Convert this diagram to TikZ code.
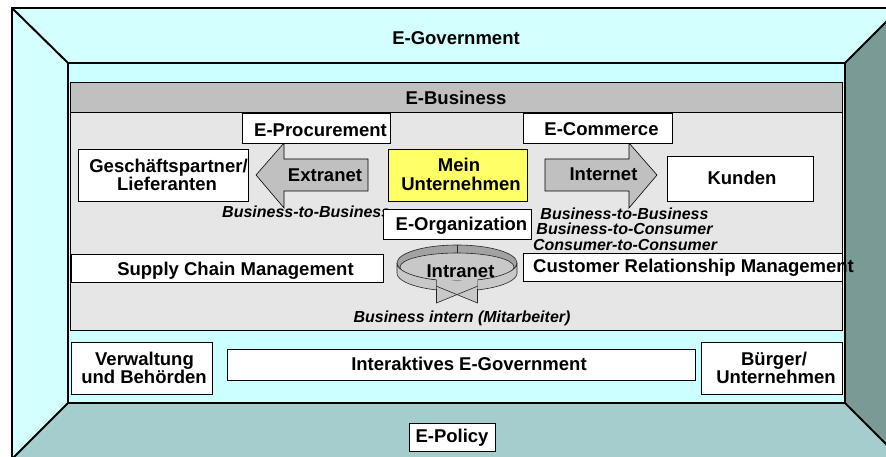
\documentclass[tikz,border=0pt]{standalone}
\usepackage{fontspec}
\setmainfont{Liberation Sans}
\usetikzlibrary{fit}
\definecolor{ceil}{RGB}{212,255,255}
\definecolor{backw}{RGB}{204,255,255}
\definecolor{rwall}{RGB}{122,154,150}
\definecolor{floorc}{RGB}{165,205,205}
\definecolor{ebhead}{RGB}{192,192,192}
\definecolor{ebbody}{RGB}{230,230,230}
\definecolor{arrowc}{RGB}{192,192,192}
\definecolor{yel}{RGB}{255,255,102}
\definecolor{ringdark}{RGB}{162,162,162}
\definecolor{ringlight}{RGB}{200,200,200}
\begin{document}
\begin{tikzpicture}[x=1pt,y=-1pt,
  box/.style={draw=black, fill=white, line width=0.7pt, inner sep=0pt, outer sep=0pt},
  lbl/.style={font=\fontsize{18.5}{18.5}\selectfont\bfseries, inner sep=0pt, anchor=base},
  ilbl/.style={font=\fontsize{16}{16}\selectfont\bfseries\itshape, inner sep=0pt, anchor=base},
  wall/.style={draw=black, line width=2pt, line join=miter},
  blockarrow/.style={fill=arrowc, draw=black, line width=0.6pt, line join=miter},
  ring/.style={draw=black!85, line width=0.6pt}
]
\useasboundingbox (0,0) rectangle (886,457);
\clip (0,0) rectangle (886,457);
% room
\fill[ceil] (12,8) -- (900,8) -- (845,63) -- (68,63) -- cycle;
\fill[ceil] (12,8) -- (68,63) -- (68,403) -- (12,459) -- cycle;
\fill[rwall] (900,8) -- (845,63) -- (845,403) -- (900,458) -- cycle;
\fill[floorc] (12,459) -- (68,403) -- (845,403) -- (900,458) -- cycle;
\fill[backw] (68,63) rectangle (845,403);
\draw[wall] (12,8) rectangle (900,459);
\draw[wall] (12,8) -- (68,63) (900,8) -- (845,63) (845,403) -- (900,458) (68,403) -- (12,459);
\draw[wall] (68,63) rectangle (845,403);
\node[lbl] (egov) at (456,44.5) {E-Government};
% E-Business area
\node[box, fill=ebbody, fit={(70.5,112) (842,330)}] (ebbody) {};
\node[box, fill=ebhead, fit={(70.5,82) (842,112)}] (ebhead) {};
\node[lbl] (ebus) at (456,104.5) {E-Business};
% block arrows
\filldraw[blockarrow] (256,175) -- (284,143) -- (284,159) -- (368,159) -- (368,191) -- (284,191) -- (284,208) -- cycle;
\filldraw[blockarrow] (657,175) -- (629,143) -- (629,159) -- (545,159) -- (545,191) -- (629,191) -- (629,208) -- cycle;
\node[lbl] (extranet) at (325,181.5) {Extranet};
\node[lbl] (internet) at (603.5,181) {Internet};
% left
\node[box, fit={(242,113) (390,143)}] (procbox) {};
\node[lbl] (proc) at (320.5,137) {E-Procurement};
\node[box, fit={(78,149) (248,201)}] (gpbox) {};
\node[lbl] (gp1) at (168.5,173) {Geschäftspartner/};
\node[lbl] (gp2) at (167,190.5) {Lieferanten};
\node[ilbl, anchor=base west] (b2bl) at (222,218) {Business-to-Business};
% centre
\node[box, fill=yel, fit={(388,149) (527,201)}] (meinbox) {};
\node[lbl] (mein1) at (459,171.7) {Mein};
\node[lbl] (mein2) at (461,191) {Unternehmen};
\node[box, fit={(383,209) (531,239)}] (orgbox) {};
\node[lbl] (org) at (461.5,230) {E-Organization};
% right
\node[box, fit={(523,113) (672,143)}] (commbox) {};
\node[lbl] (comm) at (601.5,135.7) {E-Commerce};
\node[box, fit={(667,156) (813,201)}] (kundbox) {};
\node[lbl] (kund) at (742,185) {Kunden};
\node[ilbl] (b2b) at (624.5,219) {Business-to-Business};
\node[ilbl] (b2c) at (624.5,235) {Business-to-Consumer};
\node[ilbl] (c2c) at (625,250.5) {Consumer-to-Consumer};
% management boxes
\node[box, fit={(71,254) (383,282)}] (scmbox) {};
\node[lbl] (scm) at (235.5,275) {Supply Chain Management};
\node[box, fit={(523,253) (842,281)}] (crmbox) {};
\node[lbl, anchor=base west] (crm) at (533,272.7) {Customer Relationship Management};
% intranet ring
\filldraw[ring, fill=ringdark] (457,263) ellipse [x radius=60, y radius=18];
\filldraw[ring, fill=ringlight] (457,267) ellipse [x radius=57, y radius=14];
\draw[ring] (457,245) -- (457,253);
\filldraw[ring, fill=ringlight] plot[domain=180:250, samples=20] ({457+60*cos(\x)},{263-18*sin(\x)})
  -- plot[domain=250:180, samples=20] ({457+60*cos(\x)},{273-18*sin(\x)}) -- cycle;
\filldraw[ring, fill=ringlight] plot[domain=290:360, samples=20] ({457+60*cos(\x)},{263-18*sin(\x)})
  -- plot[domain=360:290, samples=20] ({457+60*cos(\x)},{273-18*sin(\x)}) -- cycle;
\fill[ringlight] (436.5,277) -- (436.5,303) -- (478,286) -- cycle;
\fill[ringlight] (477.5,277) -- (477.5,303) -- (436,286) -- cycle;
\draw[ring] (436.5,289) -- (436.5,303) -- (478,286);
\draw[ring] (477.5,289) -- (477.5,303) -- (436,286);
\node[lbl] (intranet) at (460.5,277.3) {Intranet};
\node[ilbl] (intern) at (462,322.5) {Business intern (Mitarbeiter)};
% government row
\node[box, fit={(71,342) (212,394)}] (verwbox) {};
\node[lbl] (verw1) at (144.5,365.7) {Verwaltung};
\node[lbl] (verw2) at (144,383.3) {und Behörden};
\node[box, fit={(227,349) (695,380)}] (iegbox) {};
\node[lbl] (ieg) at (469,370.7) {Interaktives E-Government};
\node[box, fit={(701,342) (842,394)}] (buergbox) {};
\node[lbl] (buerg1) at (774,365) {Bürger/};
\node[lbl] (buerg2) at (776,383.3) {Unternehmen};
\node[box, fit={(409,423) (495,451)}] (policybox) {};
\node[lbl] (policy) at (452,442.7) {E-Policy};
\end{tikzpicture}
\end{document}
